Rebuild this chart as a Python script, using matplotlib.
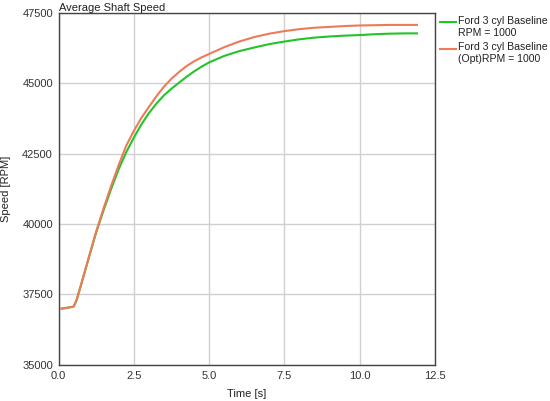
import matplotlib
matplotlib.use("Agg")
import matplotlib.pyplot as plt
from matplotlib.lines import Line2D

time_s = [0.1, 0.3, 0.5, 0.6, 0.75, 1.0, 1.25, 1.5, 1.75, 2.0, 2.25, 2.5, 2.75,
          3.0, 3.25, 3.5, 3.75, 4.0, 4.25, 4.5, 4.75, 5.0, 5.5, 6.0, 6.5, 7.0, 7.5,
          8.0, 8.5, 9.0, 9.5, 10.0, 10.5, 11.0, 11.5, 11.9]
baseline_rpm = [37000, 37030, 37070, 37300, 37850, 38780, 39700, 40500, 41250,
                41950, 42550, 43060, 43530, 43930, 44270, 44560, 44800, 45010,
                45220, 45410, 45580, 45730, 45960, 46130, 46260, 46380, 46470,
                46550, 46610, 46650, 46680, 46700, 46730, 46750, 46760, 46760]
opt_rpm = [37000, 37030, 37070, 37300, 37850, 38800, 39730, 40570, 41360,
           42100, 42780, 43300, 43760, 44150, 44530, 44870, 45150, 45390,
           45600, 45770, 45910, 46030, 46270, 46470, 46630, 46750, 46840,
           46910, 46960, 46990, 47020, 47040, 47050, 47060, 47060, 47060]
labels = ["Ford 3 cyl Baseline\nRPM = 1000", "Ford 3 cyl Baseline\n(Opt)RPM = 1000"]
colors = ["#22c42a", "#ee7a5a"]
xticks = [0.0, 2.5, 5.0, 7.5, 10.0, 12.5]
yticks = [35000, 37500, 40000, 42500, 45000, 47500]

plt.rcParams['font.family'] = ['Liberation Sans', 'DejaVu Sans']
fig = plt.figure(figsize=(5.5, 4.01), dpi=100)
ax = fig.add_axes([0.1064, 0.0898, 0.6845, 0.879])

ax.plot(time_s, baseline_rpm, color=colors[0], lw=1.5, zorder=3)
ax.plot(time_s, opt_rpm, color=colors[1], lw=1.5, zorder=3)

ax.set_xlim(0, 12.5)
ax.set_ylim(35000, 47500)
ax.set_xticks(xticks)
ax.set_xticklabels([f"{v:.1f}" for v in xticks])
ax.set_yticks(yticks)
ax.set_yticklabels([str(v) for v in yticks])
ax.grid(True, color="#d0d0d0", lw=1)
ax.set_axisbelow(True)
ax.tick_params(length=0, labelsize=8, colors="#333333", pad=4)
for s in ax.spines.values():
    s.set_color("#444444")
    s.set_linewidth(1)

ax.set_xlabel("Time [s]", fontsize=8, color="#222222", labelpad=6)
ax.set_ylabel("Speed [RPM]", fontsize=8, color="#222222", labelpad=8)
ax.set_title("Average Shaft Speed", loc="left", fontsize=8, pad=1, color="#222222")

# legend drawn manually to the right of the axes
ys = [22, 49]
for lab, col, yp in zip(labels, colors, ys):
    yf = 1 - yp / 401
    fig.add_artist(Line2D([440 / 550, 456 / 550], [yf, yf], color=col, lw=1.5))
    fig.text(458 / 550, yf + 6.5 / 401, lab, fontsize=7.6, va="top", ha="left",
             color="#222222", linespacing=1.25)

fig.savefig("out.png", dpi=100)
